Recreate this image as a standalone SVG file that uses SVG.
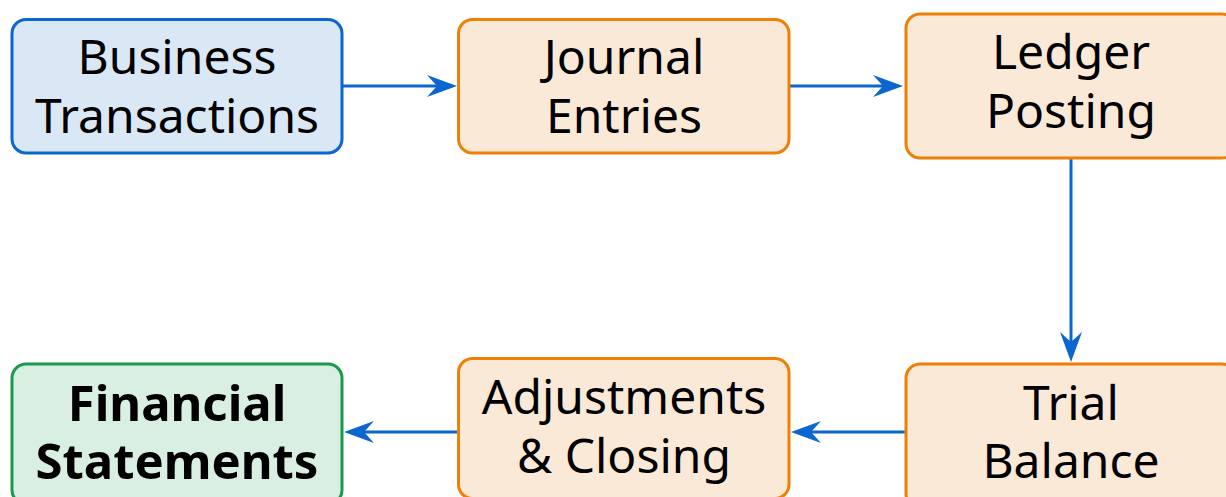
<svg xmlns="http://www.w3.org/2000/svg" width="1226" height="497" viewBox="0 0 1226 497">
  <style>
    .box { stroke-width: 3; }
    .start { fill: #dae8f6; stroke: #0b66cf; }
    .step { fill: #fbe9d8; stroke: #f07f08; }
    .end { fill: #d9efe2; stroke: #1b9a4c; }
    .lbl { font-family: "Noto Sans", "Open Sans", sans-serif; font-size: 48px; fill: #000; text-anchor: middle; }
    .bold { font-weight: bold; font-size: 49px; }
    .flow { stroke: #0b66cf; stroke-width: 3; fill: none; marker-end: url(#arrow); }
  </style>
  <defs>
    <marker id="arrow" markerUnits="userSpaceOnUse" markerWidth="32" markerHeight="24" viewBox="0 0 32 24" refX="20" refY="12" orient="auto">
      <path d="M0,1 L30,12 L0,23 L10,12 Z" fill="#0b66cf"/>
    </marker>
  </defs>

  <rect width="1226" height="497" fill="#ffffff"/>

  <g id="connectors">
    <line class="flow" x1="343" y1="86" x2="447" y2="86"/>
    <line class="flow" x1="790" y1="86" x2="893" y2="86"/>
    <line class="flow" x1="1071" y1="159" x2="1071" y2="352"/>
    <line class="flow" x1="905" y1="432" x2="801" y2="432"/>
    <line class="flow" x1="458" y1="432" x2="354" y2="432"/>
  </g>

  <g id="business-transactions">
    <rect class="box start" x="12" y="19.5" width="330" height="133.5" rx="14"/>
    <text class="lbl" x="177" y="74">Business</text>
    <text class="lbl" x="177" y="133">Transactions</text>
  </g>

  <g id="journal-entries">
    <rect class="box step" x="458.5" y="19.5" width="330.5" height="133.5" rx="14"/>
    <text class="lbl" x="624" y="74">Journal</text>
    <text class="lbl" x="624" y="133">Entries</text>
  </g>

  <g id="ledger-posting">
    <rect class="box step" x="906" y="14" width="330" height="144" rx="14"/>
    <text class="lbl" x="1071" y="69">Ledger</text>
    <text class="lbl" x="1071" y="128">Posting</text>
  </g>

  <g id="trial-balance">
    <rect class="box step" x="906" y="364" width="330" height="144" rx="14"/>
    <text class="lbl" x="1071" y="420">Trial</text>
    <text class="lbl" x="1071" y="478">Balance</text>
  </g>

  <g id="adjustments-closing">
    <rect class="box step" x="458.5" y="358.5" width="330.5" height="140" rx="14"/>
    <text class="lbl" x="624" y="414">Adjustments</text>
    <text class="lbl" x="624" y="473">&amp; Closing</text>
  </g>

  <g id="financial-statements">
    <rect class="box end" x="12" y="364" width="330" height="140" rx="14"/>
    <text class="lbl bold" x="177" y="421">Financial</text>
    <text class="lbl bold" x="177" y="479">Statements</text>
  </g>
</svg>
